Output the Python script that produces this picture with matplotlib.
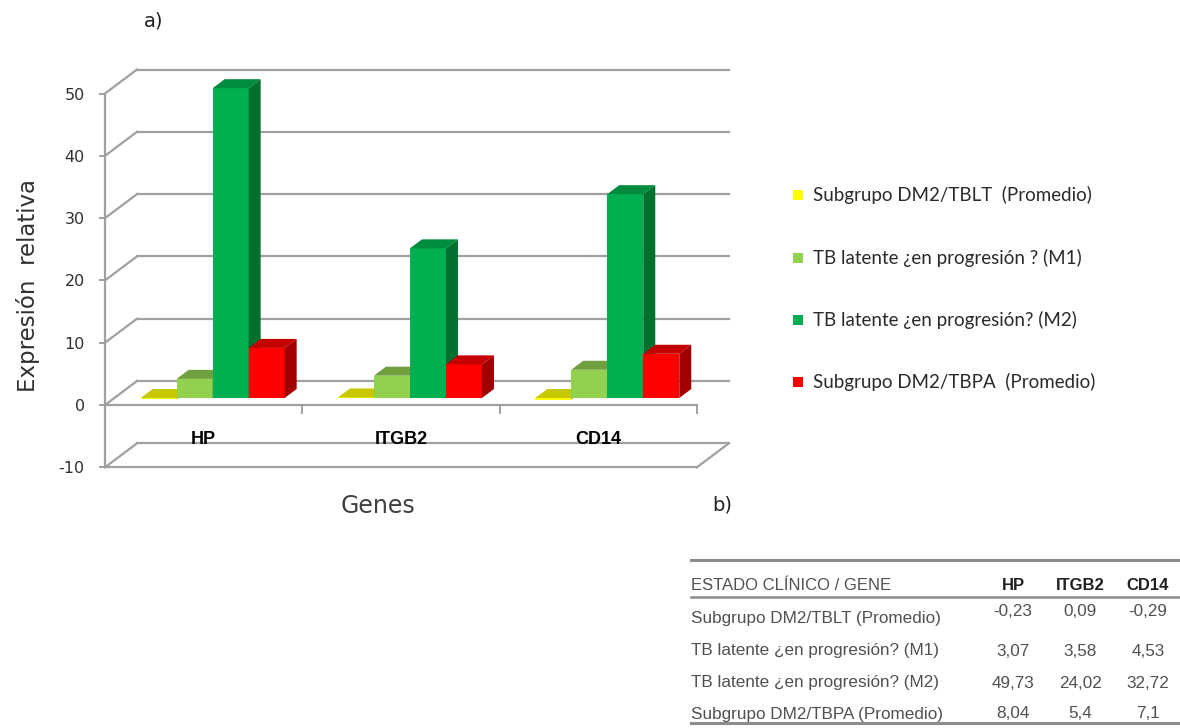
import matplotlib
matplotlib.use("Agg")
import matplotlib.pyplot as plt
from matplotlib.patches import Polygon, Rectangle
from matplotlib.lines import Line2D

# ---- data -------------------------------------------------------------
genes = ["HP", "ITGB2", "CD14"]
series_names = [
    "Subgrupo DM2/TBLT  (Promedio)",
    "TB latente ¿en progresión ? (M1)",
    "TB latente ¿en progresión? (M2)",
    "Subgrupo DM2/TBPA  (Promedio)",
]
table_rows = [
    "Subgrupo DM2/TBLT (Promedio)",
    "TB latente ¿en progresión? (M1)",
    "TB latente ¿en progresión? (M2)",
    "Subgrupo DM2/TBPA (Promedio)",
]
dm2_tblt = [-0.23, 0.09, -0.29]
tb_m1 = [3.07, 3.58, 4.53]
tb_m2 = [49.73, 24.02, 32.72]
dm2_tbpa = [8.04, 5.4, 7.1]
series_values = [dm2_tblt, tb_m1, tb_m2, dm2_tbpa]
y_ticks = [-10, 0, 10, 20, 30, 40, 50]

# face colours: front, top, side
face_colors = [
    ("#FFFF00", "#C8C800", "#B0B000"),
    ("#92D050", "#6F9F3F", "#5E8A33"),
    ("#00B050", "#008C3E", "#00702F"),
    ("#FF0000", "#C40000", "#A00000"),
]

W, H = 1180, 728
fig = plt.figure(figsize=(W / 100, H / 100), dpi=100)
fig.patch.set_facecolor("white")

# axes geometry (pixels): category span -0.5..2.5 -> 105..697 px, value 0 at 405 px
ppx = 197.3          # pixels per category unit
ppy = 6.23           # pixels per value unit
x0_px, y0_px = 105.0, 405.0
xlim = (-0.5, 2.75)
ylim = (-11.0, 56.0)
left_px = x0_px + (xlim[0] + 0.5) * ppx
right_px = x0_px + (xlim[1] + 0.5) * ppx
bot_px = y0_px - ylim[0] * ppy
top_px = y0_px - ylim[1] * ppy
ax = fig.add_axes([left_px / W, 1 - bot_px / H,
                   (right_px - left_px) / W, (bot_px - top_px) / H])
ax.set_xlim(*xlim)
ax.set_ylim(*ylim)
ax.set_facecolor("none")

# depth offsets in data units
wall_dx, wall_dy = 32 / ppx, 24 / ppy       # back wall offset
bar_sx, bar_sy = 9 / ppx, 7 / ppy           # bar front plane offset
bar_dx, bar_dy = 12 / ppx, 9 / ppy          # bar depth

grid_c = "#A0A0A0"
glw = 1.6

# back wall gridlines and left wall diagonals
for v in y_ticks:
    ax.add_line(Line2D([-0.5 + wall_dx, 2.5 + wall_dx], [v + wall_dy, v + wall_dy],
                       color=grid_c, lw=glw, zorder=1, clip_on=False))
    ax.add_line(Line2D([-0.5, -0.5 + wall_dx], [v, v + wall_dy],
                       color=grid_c, lw=glw, zorder=1, clip_on=False))

# floor at -10
ax.add_line(Line2D([-0.5, 2.5], [-10, -10], color=grid_c, lw=glw, zorder=1))
ax.add_line(Line2D([2.5, 2.5 + wall_dx], [-10, -10 + wall_dy], color=grid_c, lw=glw, zorder=1))
# category axis at 0 with boundary ticks
ax.add_line(Line2D([-0.5, 2.5], [0, 0], color=grid_c, lw=glw, zorder=1))
for b in [0.5, 1.5, 2.5]:
    ax.add_line(Line2D([b, b], [0, -1.3], color=grid_c, lw=1.4, zorder=1))

# 3-D style bars
bar_w = 0.1825
n = len(series_values)
for gi in range(len(genes)):
    for si in range(n):
        v = series_values[si][gi]
        front, topc, sidec = face_colors[si]
        xc = gi + (si - (n - 1) / 2) * bar_w + bar_sx
        z = 3 + gi * 10 + si
        ax.bar(xc, v, width=bar_w, bottom=bar_sy, color=front, edgecolor="none",
               linewidth=0, zorder=z)
        xa, xb = xc - bar_w / 2, xc + bar_w / 2
        top = max(bar_sy, bar_sy + v)
        bot = min(bar_sy, bar_sy + v)
        ax.add_patch(Polygon([(xb, bot), (xb + bar_dx, bot + bar_dy),
                              (xb + bar_dx, top + bar_dy), (xb, top)],
                             closed=True, facecolor=sidec, edgecolor="none", zorder=z))
        ax.add_patch(Polygon([(xa, top), (xa + bar_dx, top + bar_dy),
                              (xb + bar_dx, top + bar_dy), (xb, top)],
                             closed=True, facecolor=topc, edgecolor="none", zorder=z))

# category labels on the floor
for gi, g in enumerate(genes):
    ax.text(gi, -5.6, g, ha="center", va="center", fontsize=13, fontweight="bold",
            family="Liberation Sans", color="black", zorder=50)

# value axis
for s in ["top", "right", "bottom"]:
    ax.spines[s].set_visible(False)
ax.spines["left"].set_bounds(-10, 50)
ax.spines["left"].set_color(grid_c)
ax.spines["left"].set_linewidth(glw)
ax.set_xticks([])
ax.set_yticks(y_ticks)
ax.set_yticklabels([str(t) for t in y_ticks], family="DejaVu Sans", fontsize=11.5,
                   color="#303030")
ax.tick_params(axis="y", direction="out", length=4.5, width=1.4, color=grid_c, pad=10)


def fpos(x, y):
    return x / W, 1 - y / H


# axis titles and panel letters
fig.text(*fpos(28, 286), "Expresión  relativa", rotation=90, ha="center", va="center",
         family="DejaVu Sans", fontsize=16.5, color="#303030")
fig.text(*fpos(378, 506), "Genes", ha="center", va="center", family="DejaVu Sans",
         fontsize=17, color="#404040")
fig.text(*fpos(154, 21), "a)", ha="center", va="center", family="DejaVu Sans",
         fontsize=14, color="#202020")
fig.text(*fpos(722, 505), "b)", ha="center", va="center", family="DejaVu Sans",
         fontsize=14, color="#202020")

# legend
leg_rows = [195, 258, 320, 382]
for (name, cols, yy) in zip(series_names, face_colors, leg_rows):
    fx, fy = fpos(793, yy + 5)
    fig.patches.append(Rectangle((fx, fy), 10 / W, 10 / H, transform=fig.transFigure,
                                 facecolor=cols[0], edgecolor="none"))
    fig.text(*fpos(813, yy), name, ha="left", va="center", family="Lato",
             fontsize=13.5, color="#2a2a2a")

# table b)
tab_left, tab_right = 691, 1180
col_x = [1013, 1080, 1148]
for yy, lw in [(560, 2.2), (597, 1.8), (723, 2.2)]:
    fy = 1 - yy / H
    fig.add_artist(Line2D([tab_left / W, tab_right / W], [fy, fy], color="#8C8C8C",
                          lw=lw, transform=fig.transFigure))
fig.text(*fpos(tab_left, 585), "ESTADO CLÍNICO / GENE", ha="left", va="center",
         family="Liberation Sans", fontsize=12, color="#505050")
for g, cx in zip(genes, col_x):
    fig.text(*fpos(cx, 585), g, ha="center", va="center", family="Liberation Sans",
             fontsize=12, fontweight="bold", color="#202020")
row_y_lab = [619, 651, 683, 714]
row_y_val = [612, 651, 683, 714]
for ri, lab in enumerate(table_rows):
    fig.text(*fpos(tab_left, row_y_lab[ri]), lab, ha="left", va="center",
             family="Liberation Sans", fontsize=12.3, color="#505050")
    for gi, cx in enumerate(col_x):
        txt = str(series_values[ri][gi]).replace(".", ",")
        fig.text(*fpos(cx, row_y_val[ri]), txt, ha="center", va="center",
                 family="Liberation Sans", fontsize=12.3, color="#505050")

fig.savefig("out.png", dpi=100, facecolor="white")
